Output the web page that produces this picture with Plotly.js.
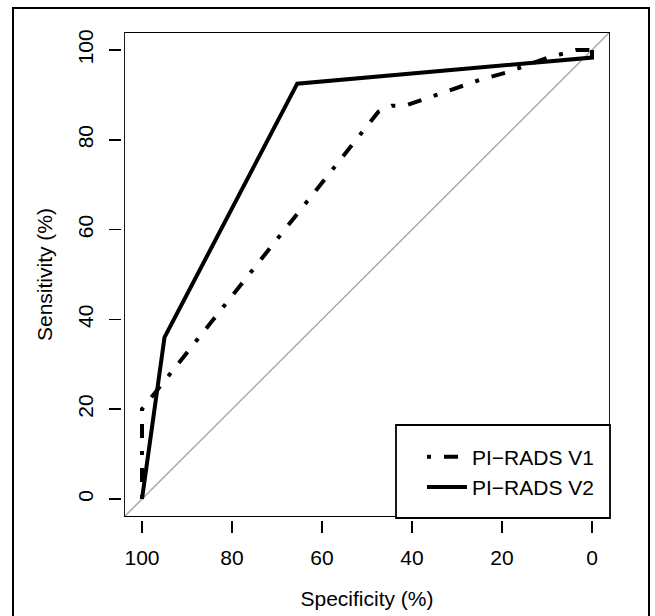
<!DOCTYPE html>
<html>
<head>
<meta charset="utf-8">
<script src="https://cdn.plot.ly/plotly-3.0.1.min.js"></script>
<style>
  html, body { margin: 0; padding: 0; background: #fff; }
  #chart { width: 655px; height: 616px; }
</style>
</head>
<body>
<div id="chart"></div>
<script>
// ---- data ----
var seriesNames = ["PI\u2212RADS V1", "PI\u2212RADS V2"];
var specV1 = [100, 100, 47.5, 44.5, 41.5, 25, 19, 10, 3.5, 0];
var sensV1 = [0, 20, 86.2, 87.6, 87.6, 93.3, 95, 98.2, 100, 100];
var specV2 = [100, 95, 65.5, 0, 0];
var sensV2 = [0, 36, 92.5, 98.3, 100];
var tickVals = [100, 80, 60, 40, 20, 0];
var tickText = ["100", "80", "60", "40", "20", "0"];
var xRange = [104, -4];
var yRange = [-4, 104];

var FONT = "Liberation Sans, Arial, Helvetica, sans-serif";

var traces = [
  { // identity (chance) line across the whole plot
    x: [xRange[0], xRange[1]],
    y: [100 - xRange[0], 100 - xRange[1]],
    mode: "lines",
    line: { color: "#a9a9a9", width: 1.5 },
    showlegend: false,
    hoverinfo: "skip"
  },
  {
    name: seriesNames[0],
    x: specV1, y: sensV1,
    mode: "lines",
    line: { color: "#000", width: 4, dash: "4px,13px,14px,13px" }
  },
  {
    name: seriesNames[1],
    x: specV2, y: sensV2,
    mode: "lines",
    line: { color: "#000", width: 4 }
  }
];

// plot area: x 121..610 (489), y 32..520 (488)
var W = 489, H = 488;
function px(x) { return (x - 121) / W; }
function py(y) { return (520 - y) / H; }

var layout = {
  width: 655, height: 616,
  margin: { l: 121, r: 45, t: 32, b: 96 },
  paper_bgcolor: "#fff", plot_bgcolor: "#fff",
  font: { family: FONT, size: 21, color: "#000" },
  showlegend: true,
  xaxis: {
    range: xRange, domain: [3 / W, 1], anchor: "free", position: 0,
    tickvals: tickVals, ticktext: tickText,
    ticks: "outside", ticklen: 12, tickwidth: 1.8, tickcolor: "#000",
    ticklabelstandoff: 7,
    showline: false, showgrid: false, zeroline: false,
    tickfont: { family: FONT, size: 21 },
    title: { text: "Specificity (%)", font: { family: FONT, size: 21 }, standoff: 23 }
  },
  yaxis: {
    range: yRange, domain: [3 / H, 1], anchor: "free", position: 0,
    tickvals: tickVals, ticktext: tickText, tickangle: -90,
    ticks: "outside", ticklen: 12, tickwidth: 1.8, tickcolor: "#000",
    ticklabelstandoff: 8,
    showline: false, showgrid: false, zeroline: false,
    tickfont: { family: FONT, size: 21 },
    title: { text: "Sensitivity (%)", font: { family: FONT, size: 21 }, standoff: 14 }
  },
  legend: {
    x: px(599), xanchor: "right",
    y: py(507.5), yanchor: "bottom",
    bgcolor: "rgba(0,0,0,0)", borderwidth: 0,
    itemwidth: 40,
    font: { family: FONT, size: 21 },
    tracegroupgap: 0
  },
  shapes: [
    { // plot box
      type: "rect", xref: "x", yref: "y",
      x0: xRange[0], x1: xRange[1], y0: yRange[0], y1: yRange[1],
      line: { color: "#000", width: 1.8 }, fillcolor: "rgba(0,0,0,0)", layer: "above"
    },
    { // legend box
      type: "rect", xref: "paper", yref: "paper",
      x0: px(396), x1: px(610), y0: py(518), y1: py(425),
      line: { color: "#000", width: 1.8 }, fillcolor: "#fff", layer: "above"
    },
    { // outer figure border
      type: "rect", xref: "paper", yref: "paper",
      x0: px(13), x1: px(649), y0: py(625), y1: py(8),
      line: { color: "#000", width: 2 }, fillcolor: "rgba(0,0,0,0)", layer: "above"
    }
  ]
};

Plotly.newPlot("chart", traces, layout, { staticPlot: true, displayModeBar: false });
</script>
</body>
</html>
